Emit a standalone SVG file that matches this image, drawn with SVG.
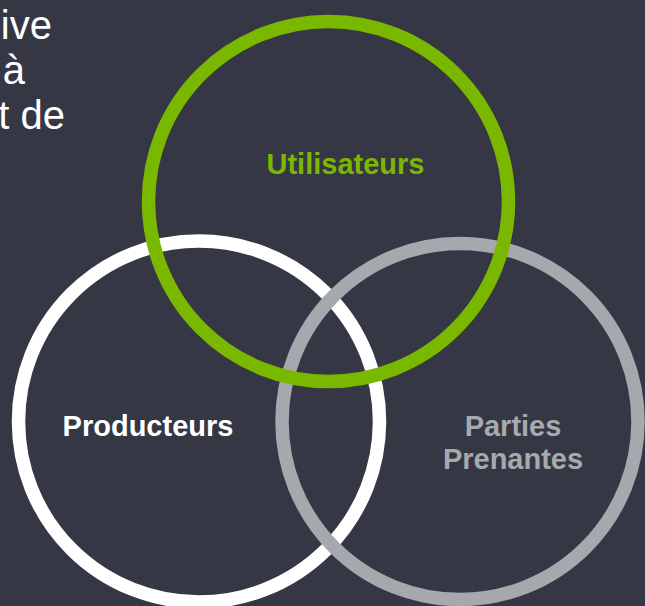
<svg xmlns="http://www.w3.org/2000/svg" width="645" height="606" viewBox="0 0 645 606">
<style>
.ring{fill:none;stroke-width:13.5}
.lbl{font-family:"Liberation Sans",Arial,sans-serif;font-weight:bold;font-size:29px;text-anchor:middle}
.intro{font-family:"Liberation Sans",Arial,sans-serif;font-size:40px;fill:#ffffff;text-anchor:end}
</style>
<rect x="0" y="0" width="645" height="606" fill="#353744"/>
<g id="intro-text">
<text class="intro" x="52" y="39">ive</text>
<text class="intro" x="25" y="84">à</text>
<text class="intro" x="65" y="129">t de</text>
</g>
<g id="connectors"></g>
<g id="producteurs">
<circle class="ring" cx="199" cy="421.5" r="180.5" stroke="#ffffff"/>
<text class="lbl" x="148" y="436" fill="#ffffff">Producteurs</text>
</g>
<g id="parties-prenantes">
<circle class="ring" cx="460" cy="421.5" r="178" stroke="#a5a8ac"/>
<text class="lbl" x="513" y="436" fill="#a7aaad">Parties</text>
<text class="lbl" x="513" y="469" fill="#a7aaad">Prenantes</text>
</g>
<g id="utilisateurs">
<circle class="ring" cx="328.5" cy="201.5" r="180" stroke="#7ab800"/>
<text class="lbl" x="345.5" y="174" fill="#7ab800">Utilisateurs</text>
</g>
</svg>
